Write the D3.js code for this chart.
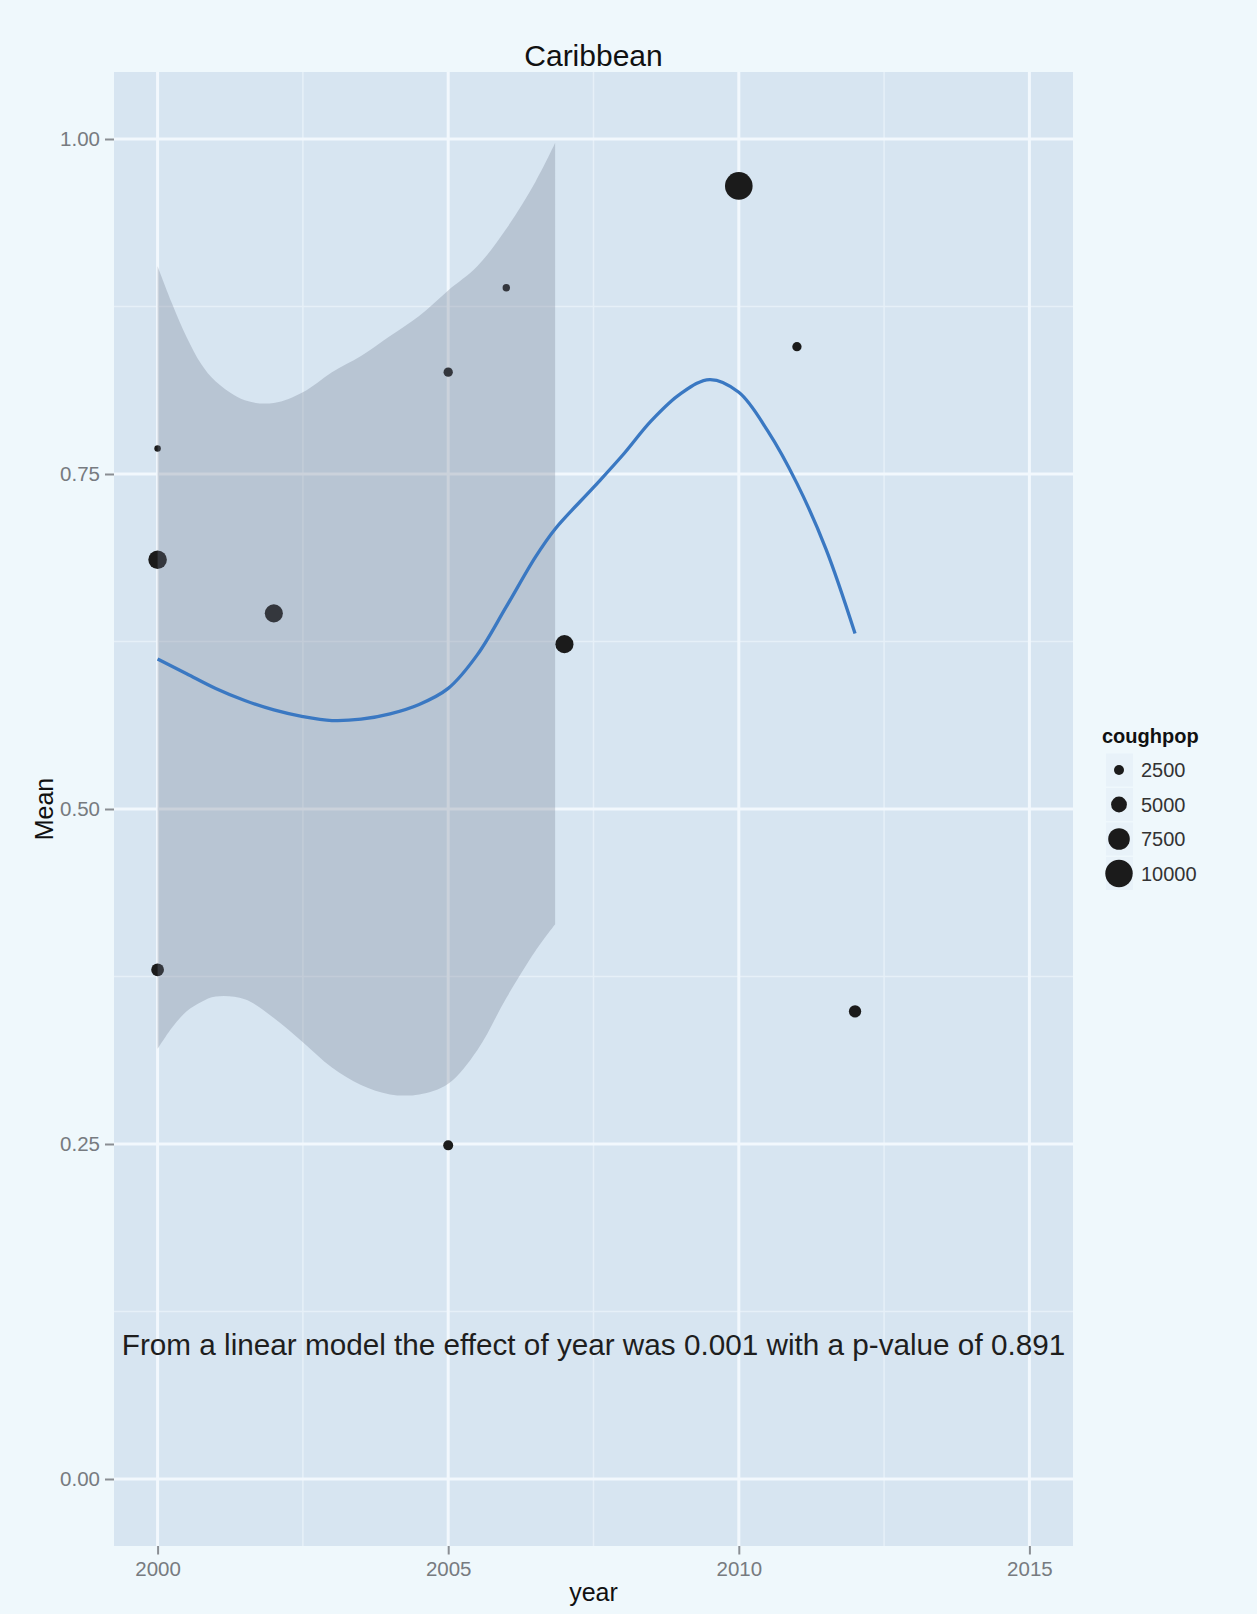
<!DOCTYPE html>
<html>
<head>
<meta charset="utf-8">
<script src="https://cdn.jsdelivr.net/npm/d3@7"></script>
<style>
  html, body { margin: 0; padding: 0; background: #eff8fc; }
  svg { display: block; font-family: "Liberation Sans", Arial, Helvetica, sans-serif; }
</style>
</head>
<body>
<svg id="chart" width="1257" height="1614"></svg>
<script>
// ---- data ----
const title = "Caribbean";
const pointYears = [2000, 2000, 2000, 2002, 2005, 2005, 2006, 2007, 2010, 2011, 2012];
const pointMeans = [0.769, 0.686, 0.380, 0.646, 0.826, 0.249, 0.889, 0.623, 0.965, 0.845, 0.349];
const pointCoughpop = [1000, 6200, 3700, 6000, 2200, 2500, 1400, 6000, 10100, 2200, 3500];

const smoothYears = [2000, 2000.5, 2001, 2001.5, 2002, 2002.5, 2003, 2003.5, 2004, 2004.5, 2005, 2005.5, 2006, 2006.5, 2006.84, 2007.5, 2008, 2008.5, 2009, 2009.5, 2010, 2010.5, 2011, 2011.5, 2012];
const smoothMeans = [0.612, 0.601, 0.590, 0.581, 0.574, 0.569, 0.566, 0.567, 0.571, 0.578, 0.590, 0.615, 0.651, 0.688, 0.709, 0.740, 0.764, 0.790, 0.810, 0.8205, 0.811, 0.782, 0.743, 0.694, 0.631];

const ribbonYears = [2000, 2000.25, 2000.5, 2000.75, 2001, 2001.5, 2002, 2002.5, 2003, 2003.5, 2004, 2004.5, 2005, 2005.5, 2006, 2006.5, 2006.84];
const ribbonUpper = [0.905, 0.877, 0.852, 0.832, 0.819, 0.805, 0.803, 0.811, 0.826, 0.838, 0.853, 0.868, 0.887, 0.905, 0.933, 0.968, 0.997];
const ribbonLower = [0.321, 0.337, 0.349, 0.356, 0.360, 0.358, 0.344, 0.326, 0.307, 0.294, 0.287, 0.287, 0.295, 0.320, 0.359, 0.394, 0.414];

const xTicks = [2000, 2005, 2010, 2015];
const xMinor = [2002.5, 2007.5, 2012.5];
const yTicks = [0, 0.25, 0.5, 0.75, 1.0];
const yTickLabels = ["0.00", "0.25", "0.50", "0.75", "1.00"];
const yMinor = [0.125, 0.375, 0.625, 0.875];

const legendTitle = "coughpop";
const legendValues = [2500, 5000, 7500, 10000];

const annotationText = "From a linear model the effect of year was 0.001 with a p-value of 0.891";
const annotationX = 2007.5;
const annotationY = 0.1;

const xLabel = "year";
const yLabel = "Mean";

// ---- layout ----
const panel = { left: 114, right: 1073, top: 72, bottom: 1546 };
const svg = d3.select("#chart");

const x = d3.scaleLinear().domain([1999.25, 2015.75]).range([panel.left, panel.right]);
const y = d3.scaleLinear().domain([-0.05, 1.05]).range([panel.bottom, panel.top]);
const r = d3.scaleLinear().domain([2500, 10000]).range([5, 13.7]);

svg.append("rect").attr("x", 0).attr("y", 0).attr("width", 1257).attr("height", 1614).attr("fill", "#eff8fc");

// panel background
svg.append("rect")
  .attr("x", panel.left).attr("y", panel.top)
  .attr("width", panel.right - panel.left).attr("height", panel.bottom - panel.top)
  .attr("fill", "#d7e5f1");

const grid = svg.append("g");
// minor grid
grid.selectAll("line.xminor").data(xMinor).enter().append("line")
  .attr("x1", d => x(d)).attr("x2", d => x(d))
  .attr("y1", panel.top).attr("y2", panel.bottom)
  .attr("stroke", "#e6f0f8").attr("stroke-width", 1.5);
grid.selectAll("line.yminor").data(yMinor).enter().append("line")
  .attr("y1", d => y(d)).attr("y2", d => y(d))
  .attr("x1", panel.left).attr("x2", panel.right)
  .attr("stroke", "#e6f0f8").attr("stroke-width", 1.5);
// major grid
grid.selectAll("line.xmajor").data(xTicks).enter().append("line")
  .attr("x1", d => x(d)).attr("x2", d => x(d))
  .attr("y1", panel.top).attr("y2", panel.bottom)
  .attr("stroke", "#f2f8fd").attr("stroke-width", 3);
grid.selectAll("line.ymajor").data(yTicks).enter().append("line")
  .attr("y1", d => y(d)).attr("y2", d => y(d))
  .attr("x1", panel.left).attr("x2", panel.right)
  .attr("stroke", "#f2f8fd").attr("stroke-width", 3);

// points
const points = pointYears.map((yr, i) => ({ year: yr, mean: pointMeans[i], pop: pointCoughpop[i] }));
svg.append("g").selectAll("circle").data(points).enter().append("circle")
  .attr("cx", d => x(d.year)).attr("cy", d => y(d.mean))
  .attr("r", d => r(d.pop))
  .attr("fill", "#1b1b1b");

// ribbon
const ribbon = ribbonYears.map((yr, i) => ({ year: yr, lo: ribbonLower[i], hi: ribbonUpper[i] }));
svg.append("path")
  .datum(ribbon)
  .attr("d", d3.area().x(d => x(d.year)).y0(d => y(d.lo)).y1(d => y(d.hi)).curve(d3.curveCatmullRom.alpha(0.5)))
  .attr("fill", "#717b8e").attr("fill-opacity", 0.3);

// smooth line
const smooth = smoothYears.map((yr, i) => ({ year: yr, mean: smoothMeans[i] }));
svg.append("path")
  .datum(smooth)
  .attr("d", d3.line().x(d => x(d.year)).y(d => y(d.mean)).curve(d3.curveCatmullRom.alpha(0.5)))
  .attr("fill", "none").attr("stroke", "#3a78c2").attr("stroke-width", 3.3)
  .attr("stroke-linejoin", "round").attr("stroke-linecap", "butt");

// annotation
svg.append("text")
  .attr("x", x(annotationX)).attr("y", y(annotationY) + 10)
  .attr("text-anchor", "middle")
  .attr("font-size", 29.7).attr("fill", "#1e1e1e")
  .text(annotationText);

// axes
const xAxis = svg.append("g").attr("transform", `translate(0,${panel.bottom})`)
  .call(d3.axisBottom(x).tickValues(xTicks).tickFormat(d3.format("d")).tickSize(8.5).tickPadding(7));
const yAxis = svg.append("g").attr("transform", `translate(${panel.left},0)`)
  .call(d3.axisLeft(y).tickValues(yTicks).tickFormat((d, i) => yTickLabels[i]).tickSize(9).tickPadding(5));
[xAxis, yAxis].forEach(a => {
  a.select(".domain").remove();
  a.selectAll(".tick line").attr("stroke", "#8a8e93").attr("stroke-width", 2);
  a.selectAll(".tick text").attr("fill", "#777b80").attr("font-size", 20.5)
    .attr("font-family", '"Liberation Sans", Arial, sans-serif');
});
xAxis.selectAll(".tick text").attr("dy", "0.71em");

// axis titles
svg.append("text")
  .attr("x", (panel.left + panel.right) / 2).attr("y", 1601)
  .attr("text-anchor", "middle").attr("font-size", 25).attr("fill", "#111")
  .text(xLabel);
svg.append("text")
  .attr("transform", `translate(53,${(panel.top + panel.bottom) / 2}) rotate(-90)`)
  .attr("text-anchor", "middle").attr("font-size", 25).attr("fill", "#111")
  .text(yLabel);

// title
svg.append("text")
  .attr("x", (panel.left + panel.right) / 2).attr("y", 66)
  .attr("text-anchor", "middle").attr("font-size", 30).attr("fill", "#111")
  .text(title);

// legend
const legend = svg.append("g");
legend.append("text")
  .attr("x", 1102).attr("y", 743)
  .attr("font-size", 20).attr("font-weight", "bold").attr("fill", "#111")
  .text(legendTitle);
const keyY0 = 770, keyStep = 34.5;
const keys = legend.selectAll("g.key").data(legendValues).enter().append("g")
  .attr("transform", (d, i) => `translate(0,${keyY0 + i * keyStep})`);
keys.append("rect")
  .attr("x", 1106).attr("y", -16.5).attr("width", 27).attr("height", 33)
  .attr("fill", "#e8f2f9");
keys.append("circle")
  .attr("cx", 1119).attr("cy", 0).attr("r", d => r(d))
  .attr("fill", "#1b1b1b");
keys.append("text")
  .attr("x", 1141).attr("y", 7.2)
  .attr("font-size", 20).attr("fill", "#333")
  .text(d => d);
</script>
</body>
</html>
